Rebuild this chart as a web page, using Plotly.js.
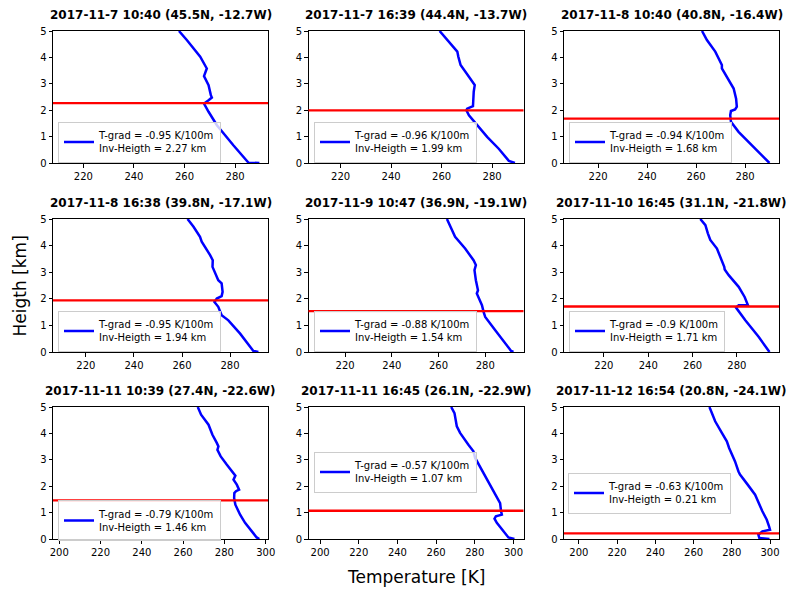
<!DOCTYPE html>
<html>
<head>
<meta charset="utf-8">
<script src="https://cdn.plot.ly/plotly-3.0.1.min.js"></script>
<style>
  html, body { margin: 0; padding: 0; background: #ffffff; }
  #chart { width: 790px; height: 590px; }
</style>
</head>
<body>
<div id="chart"></div>
<script>
// Radiosonde temperature profiles (lowest 5 km) with the detected inversion height.
const panelTitles = [
  '2017-11-7 10:40 (45.5N, -12.7W)',
  '2017-11-7 16:39 (44.4N, -13.7W)',
  '2017-11-8 10:40 (40.8N, -16.4W)',
  '2017-11-8 16:38 (39.8N, -17.1W)',
  '2017-11-9 10:47 (36.9N, -19.1W)',
  '2017-11-10 16:45 (31.1N, -21.8W)',
  '2017-11-11 10:39 (27.4N, -22.6W)',
  '2017-11-11 16:45 (26.1N, -22.9W)',
  '2017-11-12 16:54 (20.8N, -24.1W)'
];
const tGrad = [-0.95, -0.96, -0.94, -0.95, -0.88, -0.9, -0.79, -0.57, -0.63];
const invHeight = [2.27, 1.99, 1.68, 1.94, 1.54, 1.71, 1.46, 1.07, 0.21];

// Temperature [K] and height [km] of each sounding
const temp1 = [257.8, 260.9, 266.2, 268.8, 267.7, 269.5, 270.4, 270.8, 269.5, 267.7, 269.5, 272.8, 279.3, 284.6, 285.3, 289.6];
const height1 = [5, 4.66, 4.03, 3.58, 3.29, 2.95, 2.57, 2.48, 2.38, 2.25, 1.94, 1.43, 0.67, 0.10, 0.01, 0];

const temp2 = [259.2, 262.2, 266.2, 266.6, 267.5, 270.8, 273.1, 272.7, 272.5, 272.4, 270.1, 269.8, 270.8, 274.7, 278.0, 282.6, 286.6, 289.0];
const height2 = [5, 4.66, 4.22, 4.03, 3.71, 3.27, 2.95, 2.70, 2.38, 2.15, 2.06, 2.0, 1.81, 1.37, 0.99, 0.54, 0.08, 0];

const temp3 = [262.4, 264.4, 267.8, 269.8, 270.5, 270.5, 273.0, 275.3, 276.3, 276.6, 275.9, 274.2, 273.9, 274.2, 277.3, 281.4, 286.8, 289.5, 289.9];
const height3 = [5, 4.66, 4.22, 3.84, 3.71, 3.58, 3.20, 2.82, 2.44, 2.13, 2.03, 1.97, 1.81, 1.56, 1.18, 0.80, 0.29, 0.04, 0];

const temp4 = [262.3, 264.8, 267.5, 268.2, 271.7, 272.8, 272.7, 275.1, 276.5, 276.9, 276.5, 274.5, 273.5, 275.1, 276.5, 279.3, 284.2, 289.0, 289.7, 291.8];
const height4 = [5, 4.71, 4.33, 4.15, 3.64, 3.45, 3.20, 2.70, 2.58, 2.26, 2.10, 2.01, 1.88, 1.70, 1.38, 1.19, 0.69, 0.13, 0.04, 0];

const temp5 = [263.6, 265.0, 267.1, 271.4, 275.0, 276.0, 275.4, 276.0, 276.4, 276.9, 276.4, 277.6, 278.6, 279.3, 280.0, 284.3, 290.0, 291.1, 292.1];
const height5 = [5, 4.71, 4.33, 3.89, 3.45, 3.27, 3.08, 2.70, 2.45, 2.32, 2.20, 1.95, 1.76, 1.51, 1.32, 0.82, 0.13, 0.04, 0];

const temp6 = [263.5, 265.8, 266.9, 268.0, 271.0, 273.3, 274.3, 274.5, 276.3, 280.8, 283.5, 285.0, 280.8, 279.6, 283.8, 289.8, 294.7];
const height6 = [5, 4.77, 4.46, 4.21, 3.89, 3.45, 3.20, 3.10, 2.89, 2.45, 2.07, 1.76, 1.76, 1.67, 1.19, 0.57, 0];

const temp7 = [267.1, 268.7, 272.3, 274.2, 276.3, 277.1, 276.6, 278.2, 281.1, 284.4, 285.3, 284.4, 286.0, 287.1, 285.6, 284.8, 284.7, 285.3, 287.6, 290.0, 294.0, 295.6, 296.9];
const height7 = [5, 4.71, 4.33, 3.95, 3.64, 3.51, 3.38, 3.13, 2.82, 2.50, 2.40, 2.25, 2.06, 1.87, 1.81, 1.74, 1.55, 1.30, 0.92, 0.61, 0.23, 0.06, 0];

const temp8 = [267.8, 269.5, 270.7, 272.4, 276.7, 279.3, 280.2, 283.6, 287.1, 290.5, 293.1, 293.6, 294.0, 290.9, 290.2, 291.4, 294.8, 297.4, 300.5];
const height8 = [5, 4.77, 4.27, 4.02, 3.57, 3.32, 3.07, 2.63, 2.18, 1.74, 1.36, 1.05, 0.92, 0.86, 0.77, 0.61, 0.29, 0.06, 0];

const temp9 = [268.3, 270.4, 271.3, 274.8, 277.4, 278.6, 281.7, 283.5, 284.3, 288.3, 292.2, 296.0, 298.3, 299.5, 300.0, 296.0, 293.9, 294.4, 299.7];
const height9 = [5, 4.65, 4.46, 4.02, 3.70, 3.45, 2.94, 2.56, 2.44, 2.06, 1.68, 1.05, 0.73, 0.48, 0.35, 0.29, 0.16, 0.04, 0];

// x-axis limits of each panel [K]
const tempMin = [208, 207.3, 206.1, 206.3, 204.3, 202, 197, 194, 192.2];
const tempMax = [293, 292.4, 293.8, 295.8, 296.4, 299, 301.1, 305.2, 304.7];

const temps = [temp1, temp2, temp3, temp4, temp5, temp6, temp7, temp8, temp9];
const heights = [height1, height2, height3, height4, height5, height6, height7, height8, height9];

// ---- figure geometry (pixels) ----
const W = 790, H = 590;
const colPx = [[53, 268], [308.5, 523.5], [564, 779]];
const rowPx = [[31, 163], [219, 352], [407, 539]];
// legend placement: left edge and vertical centre, in pixels
const legendLeft = [58, 314, 569, 58, 314, 569, 58, 314, 568];
const legendMid = [142, 142, 142, 331, 331, 331, 520.5, 472, 493];

const FONT = 'DejaVu Sans';
const px = v => v / W;
const py = v => 1 - v / H;

const data = [];
const layout = {
  width: W, height: H,
  margin: {l: 0, r: 0, t: 0, b: 0},
  paper_bgcolor: '#ffffff',
  plot_bgcolor: '#ffffff',
  font: {family: FONT, size: 10, color: '#000000'},
  shapes: [],
  annotations: []
};

for (let i = 0; i < 9; i++) {
  const s = i === 0 ? '' : String(i + 1);
  const col = i % 3, row = Math.floor(i / 3);
  const legName = 'legend' + s;

  data.push({
    type: 'scatter', mode: 'lines',
    x: temps[i], y: heights[i],
    xaxis: 'x' + s, yaxis: 'y' + s,
    line: {color: '#0000ff', width: 2.5},
    name: `T-grad = ${tGrad[i]} K/100m<br>Inv-Heigth = ${invHeight[i]} km`,
    legend: legName,
    showlegend: true,
    hoverinfo: 'skip'
  });

  const axCommon = {
    showline: true, mirror: true, linecolor: '#000000', linewidth: 1,
    ticks: 'outside', ticklen: 3.5, tickwidth: 1, tickcolor: '#000000',
    showgrid: false, zeroline: false,
    tickfont: {family: FONT, size: 10, color: '#000000'}
  };

  layout['xaxis' + s] = Object.assign({}, axCommon, {
    domain: [px(colPx[col][0]), px(colPx[col][1])],
    range: [tempMin[i], tempMax[i]],
    dtick: 20, tick0: 0,
    anchor: 'y' + s
  });
  layout['yaxis' + s] = Object.assign({}, axCommon, {
    domain: [py(rowPx[row][1]), py(rowPx[row][0])],
    range: [0, 5],
    dtick: 1, tick0: 0,
    anchor: 'x' + s
  });

  // inversion height
  layout.shapes.push({
    type: 'line', layer: 'above',
    xref: 'x' + s + ' domain', yref: 'y' + s,
    x0: 0, x1: 1, y0: invHeight[i], y1: invHeight[i],
    line: {color: '#ff0000', width: 2.3}
  });

  layout[legName] = {
    x: px(legendLeft[i]), y: py(legendMid[i]),
    xanchor: 'left', yanchor: 'middle',
    xref: 'paper', yref: 'paper',
    bgcolor: 'rgba(255,255,255,0.8)',
    bordercolor: '#cccccc', borderwidth: 1,
    font: {family: FONT, size: 10, color: '#000000'},
    itemwidth: 30,
    tracegroupgap: 0
  };

  layout.annotations.push({
    xref: 'paper', yref: 'paper',
    x: px((colPx[col][0] + colPx[col][1]) / 2),
    y: py(rowPx[row][0] - 7),
    xanchor: 'center', yanchor: 'bottom',
    text: panelTitles[i],
    showarrow: false,
    font: {family: FONT, size: 12, color: '#000000', weight: 'bold'}
  });
}

// shared axis labels
layout.annotations.push({
  xref: 'paper', yref: 'paper',
  x: px(19.5), y: py(286),
  xanchor: 'center', yanchor: 'middle',
  text: 'Heigth [km]', textangle: -90, showarrow: false,
  font: {family: FONT, size: 17, color: '#000000'}
});
layout.annotations.push({
  xref: 'paper', yref: 'paper',
  x: px(416), y: py(577),
  xanchor: 'center', yanchor: 'middle',
  text: 'Temperature [K]', showarrow: false,
  font: {family: FONT, size: 17, color: '#000000'}
});

Plotly.newPlot('chart', data, layout, {staticPlot: true, displayModeBar: false});
</script>
</body>
</html>
